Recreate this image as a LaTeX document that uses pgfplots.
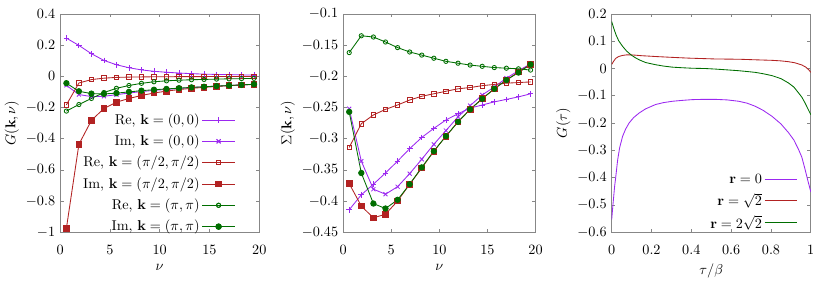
\documentclass[border=0pt]{standalone}
\usepackage{pgfplots}
\usepackage{pgfplotstable}
\pgfplotsset{compat=1.18}
\definecolor{cP}{RGB}{155,40,240}
\definecolor{cR}{RGB}{178,34,34}
\definecolor{cG}{RGB}{0,110,0}
\definecolor{frame}{RGB}{135,135,135}

\pgfdeclareplotmark{hline}{%
  \pgfpathmoveto{\pgfqpoint{-0.4cm}{0pt}}%
  \pgfpathlineto{\pgfqpoint{0.4cm}{0pt}}%
  \pgfusepathqstroke}

\pgfplotstableread{
nu ReA ImA ReB ImB ReC ImC
0.628 0.245 -0.058 -0.183 -0.975 -0.223 -0.044
1.885 0.198 -0.117 -0.043 -0.436 -0.181 -0.096
3.142 0.145 -0.130 -0.021 -0.283 -0.142 -0.111
4.398 0.102 -0.128 -0.012 -0.206 -0.104 -0.113
5.655 0.074 -0.118 -0.007 -0.166 -0.077 -0.108
6.912 0.055 -0.107 -0.005 -0.142 -0.059 -0.100
8.168 0.041 -0.098 -0.004 -0.123 -0.045 -0.092
9.425 0.032 -0.090 -0.003 -0.107 -0.035 -0.086
10.681 0.026 -0.084 -0.003 -0.095 -0.029 -0.081
11.938 0.021 -0.078 -0.002 -0.085 -0.025 -0.076
13.195 0.017 -0.072 -0.002 -0.077 -0.022 -0.071
14.451 0.014 -0.067 -0.002 -0.071 -0.020 -0.067
15.708 0.012 -0.063 -0.001 -0.065 -0.018 -0.063
16.965 0.011 -0.059 -0.001 -0.060 -0.016 -0.059
18.221 0.009 -0.055 -0.001 -0.055 -0.015 -0.055
19.478 0.008 -0.051 -0.001 -0.052 -0.013 -0.051
}\Gtab

\pgfplotstableread{
nu ReA ImA ReB ImB ReC ImC
0.628 -0.414 -0.252 -0.314 -0.372 -0.162 -0.257
1.885 -0.390 -0.336 -0.276 -0.408 -0.135 -0.355
3.142 -0.373 -0.381 -0.262 -0.427 -0.137 -0.404
4.398 -0.355 -0.389 -0.253 -0.421 -0.145 -0.412
5.655 -0.336 -0.377 -0.246 -0.400 -0.154 -0.398
6.912 -0.316 -0.356 -0.238 -0.373 -0.161 -0.373
8.168 -0.298 -0.333 -0.232 -0.347 -0.166 -0.346
9.425 -0.2835 -0.309 -0.228 -0.320 -0.171 -0.320
10.681 -0.270 -0.287 -0.224 -0.296 -0.176 -0.296
11.938 -0.260 -0.265 -0.220 -0.273 -0.179 -0.273
13.195 -0.251 -0.247 -0.218 -0.253 -0.182 -0.253
14.451 -0.246 -0.230 -0.215 -0.236 -0.184 -0.236
15.708 -0.241 -0.217 -0.213 -0.220 -0.186 -0.220
16.965 -0.237 -0.203 -0.211 -0.206 -0.187 -0.206
18.221 -0.233 -0.191 -0.210 -0.193 -0.188 -0.194
19.478 -0.228 -0.180 -0.209 -0.181 -0.190 -0.181
}\Stab

\pgfplotstableread{
t G
0 -0.554
0.005 -0.51
0.01 -0.47
0.015 -0.43
0.02 -0.40
0.03 -0.335
0.04 -0.29
0.055 -0.248
0.07 -0.222
0.088 -0.199
0.11 -0.180
0.138 -0.163
0.17 -0.148
0.22 -0.132
0.26 -0.125
0.305 -0.120
0.35 -0.117
0.405 -0.114
0.46 -0.113
0.52 -0.113
0.58 -0.115
0.638 -0.120
0.68 -0.127
0.72 -0.138
0.76 -0.153
0.805 -0.175
0.85 -0.203
0.888 -0.235
0.915 -0.262
0.938 -0.296
0.955 -0.325
0.971 -0.369
0.985 -0.41
1 -0.452
}\TauA

\pgfplotstableread{
t G
0 0.015
0.01 0.027
0.02 0.037
0.035 0.044
0.055 0.048
0.075 0.050
0.1 0.050
0.15 0.047
0.22 0.044
0.3 0.041
0.39 0.038
0.52 0.035
0.64 0.034
0.72 0.032
0.805 0.030
0.85 0.028
0.888 0.025
0.92 0.021
0.955 0.013
0.975 0.005
0.99 -0.005
1 -0.014
}\TauB

\pgfplotstableread{
t G
0 0.172
0.01 0.148
0.022 0.123
0.035 0.102
0.055 0.081
0.075 0.064
0.097 0.050
0.12 0.039
0.138 0.032
0.17 0.022
0.22 0.014
0.26 0.009
0.305 0.005
0.35 0.003
0.405 0.001
0.47 0
0.52 -0.002
0.58 -0.005
0.638 -0.008
0.68 -0.011
0.72 -0.014
0.76 -0.019
0.805 -0.026
0.85 -0.037
0.888 -0.053
0.915 -0.068
0.938 -0.089
0.955 -0.105
0.971 -0.126
0.985 -0.147
1 -0.169
}\TauC

\pgfplotsset{
  gp/.style={
    scale only axis,
    width=140pt, height=153.5pt,
    anchor=south west,
    axis line style={frame, line width=0.5pt},
    tick style={frame, line width=0.5pt},
    tick align=inside,
    tick pos=both,
    major tick length=2.5pt,
    minor tick num=0,
    every tick label/.append style={font=\normalsize},
    xticklabel style={yshift=-6pt},
    xlabel style={yshift=0.6pt},
    ylabel style={yshift=-2pt},
    every axis plot/.append style={line width=0.6pt},
    legend style={draw=none, fill=none, legend cell align=right, row sep=2pt,
      font=\normalsize},
    legend plot pos=right,
    scaled ticks=false,
    yticklabel style={/pgf/number format/fixed},
  },
  leg/.style={legend image code/.code={%
      \color{#1}%
      \path[#1] plot[mark=hline, mark options={#1, line width=0.6pt}]
        coordinates {(0.4cm,0cm) (0.4cm,0cm) (0.4cm,0cm)};
      \path[#1] plot coordinates {(0.4cm,0cm) (0.4cm,0cm)};}},
  legl/.style={legend image code/.code={%
      \color{#1}%
      \path[#1] plot[mark=hline, mark options={#1, line width=0.6pt}]
        coordinates {(0.4cm,0cm) (0.4cm,0cm) (0.4cm,0cm)};}},
}

\begin{document}
\begin{tikzpicture}
% Panel 1
\begin{axis}[gp, at={(39.7pt,30.6pt)},
  xmin=0, xmax=20, ymin=-1, ymax=0.4,
  xtick={0,5,10,15,20}, ytick={-1,-0.8,-0.6,-0.4,-0.2,0,0.2,0.4},
  xlabel={$\nu$}, ylabel={$G(\mathbf{k},\nu)$},
  legend style={at={(0.90,0.571)}, anchor=north east}]
\addplot[cP, mark=+, mark size=2pt, leg=cP] table[x=nu,y=ReA] {\Gtab};
\addlegendentry{Re, $\mathbf{k}=(0,0)$}
\addplot[cP, mark=x, mark size=2pt, leg=cP] table[x=nu,y=ImA] {\Gtab};
\addlegendentry{Im, $\mathbf{k}=(0,0)$}
\addplot[cR, mark=square, mark size=1.6pt, leg=cR] table[x=nu,y=ReB] {\Gtab};
\addlegendentry{Re, $\mathbf{k}=(\pi/2,\pi/2)$}
\addplot[cR, mark=square*, mark size=2pt, leg=cR] table[x=nu,y=ImB] {\Gtab};
\addlegendentry{Im, $\mathbf{k}=(\pi/2,\pi/2)$}
\addplot[cG, mark=o, mark size=1.5pt, leg=cG] table[x=nu,y=ReC] {\Gtab};
\addlegendentry{Re, $\mathbf{k}=(\pi,\pi)$}
\addplot[cG, mark=*, mark size=1.9pt, leg=cG] table[x=nu,y=ImC] {\Gtab};
\addlegendentry{Im, $\mathbf{k}=(\pi,\pi)$}
\end{axis}
% Panel 2
\begin{axis}[gp, at={(238.7pt,30.6pt)}, width=135.3pt,
  xmin=0, xmax=20, ymin=-0.45, ymax=-0.1,
  xtick={0,5,10,15,20}, ytick={-0.45,-0.4,-0.35,-0.3,-0.25,-0.2,-0.15,-0.1},
  xlabel={$\nu$}, ylabel={$\Sigma(\mathbf{k},\nu)$}]
\addplot[cP, mark=+, mark size=2pt] table[x=nu,y=ReA] {\Stab};
\addplot[cP, mark=x, mark size=2pt] table[x=nu,y=ImA] {\Stab};
\addplot[cR, mark=square, mark size=1.6pt] table[x=nu,y=ReB] {\Stab};
\addplot[cR, mark=square*, mark size=2pt] table[x=nu,y=ImB] {\Stab};
\addplot[cG, mark=o, mark size=1.5pt] table[x=nu,y=ReC] {\Stab};
\addplot[cG, mark=*, mark size=1.9pt] table[x=nu,y=ImC] {\Stab};
\end{axis}
% Panel 3
\begin{axis}[gp, at={(427.5pt,30.6pt)},
  xmin=0, xmax=1, ymin=-0.6, ymax=0.2,
  xtick={0,0.2,0.4,0.6,0.8,1}, ytick={-0.6,-0.5,-0.4,-0.3,-0.2,-0.1,0,0.1,0.2},
  xticklabel style={/pgf/number format/fixed},
  xlabel={$\tau/\beta$}, ylabel={$G(\tau)$},
  legend style={at={(0.955,0.293)}, anchor=north east, row sep=1.2pt}]
\addplot[cP, no marks, legl=cP] table[x=t,y=G] {\TauA};
\addlegendentry{$\mathbf{r}=0$}
\addplot[cR, no marks, legl=cR] table[x=t,y=G] {\TauB};
\addlegendentry{$\mathbf{r}=\sqrt{2}$}
\addplot[cG, no marks, legl=cG] table[x=t,y=G] {\TauC};
\addlegendentry{$\mathbf{r}=2\sqrt{2}$}
\end{axis}
\path (0,0) rectangle (581pt,193.9pt);
\end{tikzpicture}
\end{document}
